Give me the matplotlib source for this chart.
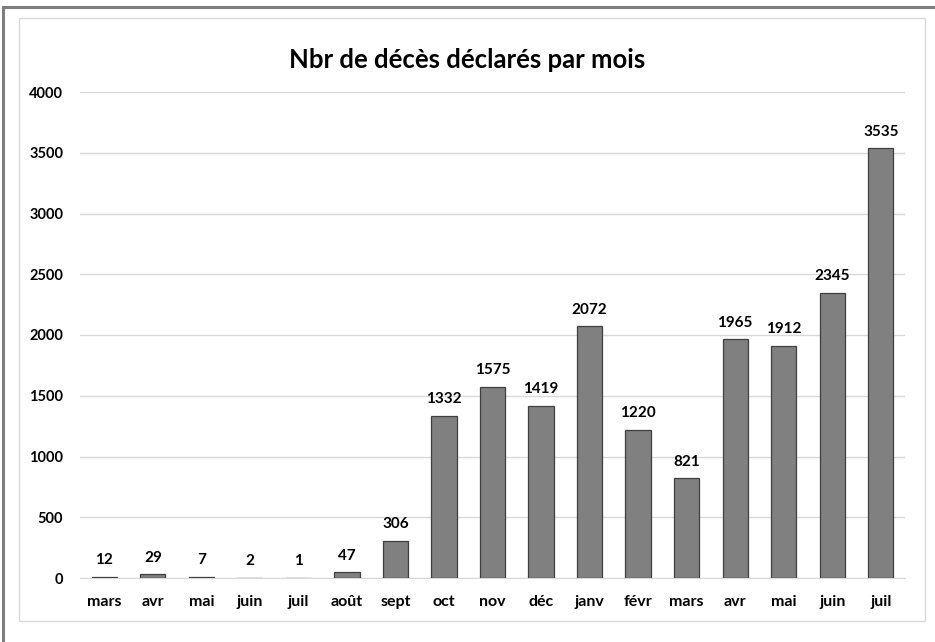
import matplotlib
matplotlib.use("Agg")
import matplotlib.pyplot as plt
from matplotlib.patches import Rectangle
from matplotlib.lines import Line2D

months = ["mars", "avr", "mai", "juin", "juil", "août", "sept", "oct", "nov",
          "déc", "janv", "févr", "mars", "avr", "mai", "juin", "juil"]
deaths = [12, 29, 7, 2, 1, 47, 306, 1332, 1575, 1419, 2072, 1220, 821,
          1965, 1912, 2345, 3535]
yticks = [0, 500, 1000, 1500, 2000, 2500, 3000, 3500, 4000]

plt.rcParams['font.family'] = ['Lato', 'DejaVu Sans']

W, H = 935, 642
fig = plt.figure(figsize=(W / 100, H / 100), dpi=100)
fig.patch.set_facecolor("white")

# outer frame (top and left only) and inner light chart border
fig.add_artist(Line2D([3 / W, 3 / W], [0, 1 - 7 / H], transform=fig.transFigure,
                      color="#7f7f7f", lw=2.2))
fig.add_artist(Line2D([3 / W, 1], [1 - 7 / H, 1 - 7 / H], transform=fig.transFigure,
                      color="#7f7f7f", lw=2.2))
fig.add_artist(Rectangle((19 / W, 1 - 621 / H), (925 - 19) / W, (621 - 18) / H,
                         transform=fig.transFigure, fill=False,
                         edgecolor="#d9d9d9", lw=1))

ax = fig.add_axes([80 / W, (H - 578) / H, (905 - 80) / W, (578 - 92) / H])
x = range(len(months))
bars = ax.bar(x, deaths, width=0.52, color="#808080", edgecolor="#3f3f3f", lw=0.9,
              zorder=3)
ax.set_xlim(-0.5, len(months) - 0.5)
ax.set_ylim(0, 4000)
ax.set_yticks(yticks)
ax.set_yticklabels([str(v) for v in yticks], fontsize=10.5, fontweight="bold")
ax.set_xticks(list(x))
ax.set_xticklabels(months, fontsize=11.5, fontweight="bold")
ax.tick_params(axis="both", length=0, colors="#000000")
ax.tick_params(axis="y", pad=12)
ax.tick_params(axis="x", pad=12)
ax.grid(axis="y", color="#d9d9d9", lw=1, zorder=0)
for s in ["top", "right", "left"]:
    ax.spines[s].set_visible(False)
ax.spines["bottom"].set_color("#d9d9d9")

for b, v in zip(bars, deaths):
    ax.annotate(str(v), (b.get_x() + b.get_width() / 2, v), xytext=(0, 7),
                textcoords="offset points", ha="center", va="bottom",
                fontsize=11, fontweight="bold")

fig.text(467 / W, 1 - 60 / H, "Nbr de décès déclarés par mois", ha="center",
         va="center", fontsize=18.5, fontweight="bold")

fig.savefig("out.png", dpi=100)
